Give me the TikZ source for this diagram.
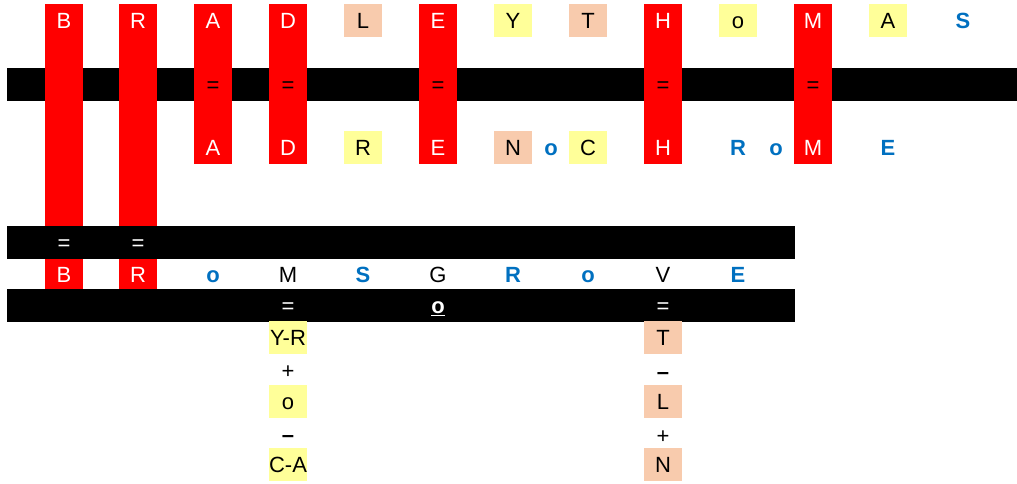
\documentclass[tikz,border=0pt]{standalone}
\usepackage{fontspec}
\setmainfont{Liberation Sans}
\definecolor{boxyellow}{HTML}{FFFF99}
\definecolor{boxsalmon}{HTML}{F8CBAD}
\definecolor{letterblue}{HTML}{0070C0}
\definecolor{colred}{HTML}{FF0000}
\begin{document}
\begin{tikzpicture}[x=1pt,y=-1pt,
  every node/.style={font=\fontsize{22}{26}\selectfont, inner sep=0pt, text height=16pt, text depth=0pt},
  redtxt/.style={text=white},
  ylw/.style={fill=boxyellow, minimum width=38pt, minimum height=33pt},
  slm/.style={fill=boxsalmon, minimum width=38pt, minimum height=33pt},
  blu/.style={text=letterblue, font=\fontsize{22}{26}\selectfont\bfseries},
  wht/.style={text=white},
  bar/.style={fill=black},
  col/.style={fill=colred}]
\useasboundingbox (0,0) rectangle (1017,483);
% first bar
\fill[bar] (7,68) rectangle (1017,101);
% red columns
\fill[col] (45,4) rectangle (83,289);
\fill[col] (119,4) rectangle (157,289);
\fill[col] (194,4) rectangle (232,164);
\fill[col] (269,4) rectangle (307,164);
\fill[col] (419,4) rectangle (457,164);
\fill[col] (644,4) rectangle (682,164);
\fill[col] (794,4) rectangle (832,164);
% lower bars
\fill[bar] (7,226) rectangle (795,259);
\fill[bar] (7,289) rectangle (795,322);
% row 1
\node[redtxt] (a1) at (64,20.5) {B};
\node[redtxt] (a2) at (138,20.5) {R};
\node[redtxt] (a3) at (213,20.5) {A};
\node[redtxt] (a4) at (288,20.5) {D};
\node[slm] (a5) at (363,20.5) {L};
\node[redtxt] (a6) at (438,20.5) {E};
\node[ylw] (a7) at (513,20.5) {Y};
\node[slm] (a8) at (588,20.5) {T};
\node[redtxt] (a9) at (663,20.5) {H};
\node[ylw] (a10) at (738,20.5) {o};
\node[redtxt] (a11) at (813,20.5) {M};
\node[ylw] (a12) at (888,20.5) {A};
\node[blu] (a13) at (963,20.5) {S};
% bar 1 equals
\node (e1) at (213,84.5) {=};
\node (e2) at (288,84.5) {=};
\node (e3) at (438,84.5) {=};
\node (e4) at (663,84.5) {=};
\node (e5) at (813,84.5) {=};
% row 2
\node[redtxt] (b1) at (213,147.5) {A};
\node[redtxt] (b2) at (288,147.5) {D};
\node[ylw] (b3) at (363,147.5) {R};
\node[redtxt] (b4) at (438,147.5) {E};
\node[slm] (b5) at (513,147.5) {N};
\node[blu] (b6) at (551,147.5) {o};
\node[ylw] (b7) at (588,147.5) {C};
\node[redtxt] (b8) at (663,147.5) {H};
\node[blu] (b9) at (738,147.5) {R};
\node[blu] (b10) at (776,147.5) {o};
\node[redtxt] (b11) at (813,147.5) {M};
\node[blu] (b12) at (888,147.5) {E};
% bar 2 equals
\node[wht] (f1) at (64,242.5) {=};
\node[wht] (f2) at (138,242.5) {=};
% row 3
\node[redtxt] (c1) at (64,274) {B};
\node[redtxt] (c2) at (138,274) {R};
\node[blu] (c3) at (213,274) {o};
\node (c4) at (288,274) {M};
\node[blu] (c5) at (363,274) {S};
\node (c6) at (438,274) {G};
\node[blu] (c7) at (513,274) {R};
\node[blu] (c8) at (588,274) {o};
\node (c9) at (663,274) {V};
\node[blu] (c10) at (738,274) {E};
% bar 3
\node[wht] (g1) at (288,305.5) {=};
\node[wht, font=\fontsize{22}{26}\selectfont\bfseries] (g2) at (438,305.5) {\underline{o}};
\node[wht] (g3) at (663,305.5) {=};
% left stack
\node[ylw] (d1) at (288,337.5) {Y-R};
\node (d2) at (288,370) {+};
\node[ylw] (d3) at (288,401) {o};
\node (d4) at (288,434) {\textbf{–}};
\node[ylw] (d5) at (288,464.5) {C-A};
% right stack
\node[slm] (h1) at (663,337.5) {T};
\node (h2) at (663,371) {\textbf{–}};
\node[slm] (h3) at (663,401) {L};
\node (h4) at (663,435) {+};
\node[slm] (h5) at (663,464.5) {N};
\end{tikzpicture}
\end{document}
